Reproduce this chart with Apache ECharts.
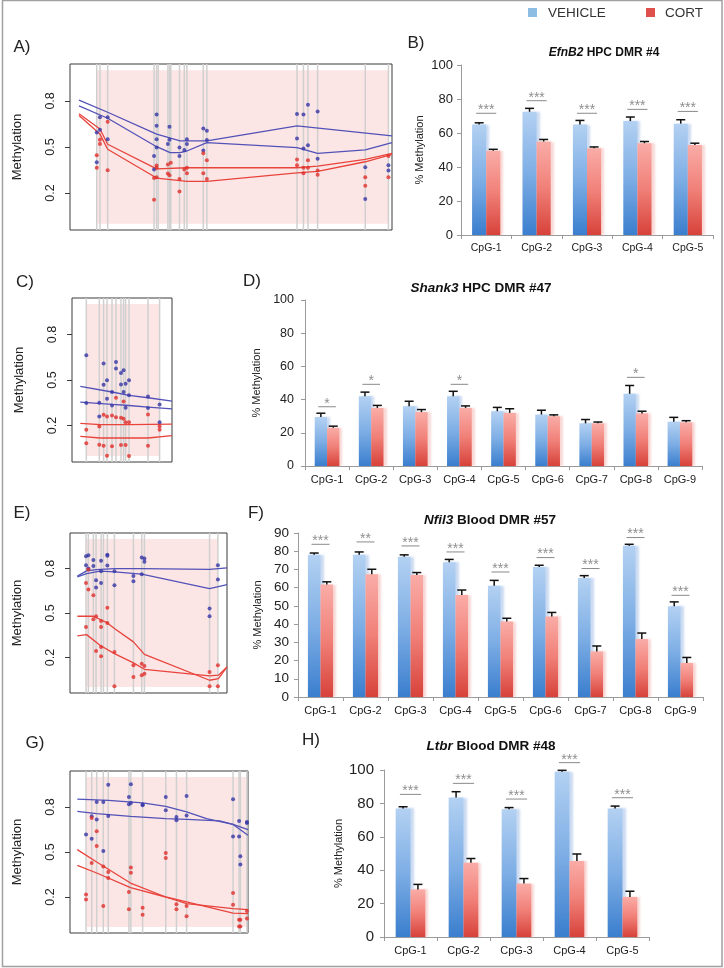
<!DOCTYPE html>
<html><head><meta charset="utf-8">
<script src="https://cdn.jsdelivr.net/npm/echarts@6/dist/echarts.min.js"></script>
<style>html,body{margin:0;padding:0;background:#fff}#c{width:724px;height:968px}</style>
</head><body><div id="c"></div><script>
const FONT = 'Liberation Sans, Arial, Helvetica, sans-serif';

// ---------- Panel A (EfnB2 region) ----------
const aCpG = [8.3, 9.3, 11.7, 26.1, 26.9, 27.4, 30.4, 30.9, 31.3, 34.0, 35.5, 36.3, 41.4, 42.5, 70.5, 72.5, 73.9, 76.9, 91.7, 98.9];
const aBluePts = [[8.3,0.594],[8.3,0.401],[9.3,0.694],[9.3,0.612],[11.7,0.694],[11.7,0.551],[26.1,0.441],[26.1,0.353],[26.9,0.711],[26.9,0.639],[26.9,0.551],[26.9,0.496],[30.9,0.632],[30.9,0.547],[30.4,0.519],[34.0,0.496],[34.0,0.441],[35.5,0.481],[36.3,0.551],[36.3,0.519],[41.4,0.621],[41.4,0.477],[42.5,0.606],[42.5,0.545],[70.5,0.715],[70.5,0.556],[72.5,0.711],[72.5,0.490],[73.9,0.775],[73.9,0.511],[76.9,0.731],[76.9,0.424],[91.7,0.369],[91.7,0.162],[98.9,0.382],[98.9,0.347]];
const aRedPts = [[8.3,0.446],[8.3,0.365],[9.3,0.547],[9.3,0.52],[11.7,0.665],[11.7,0.349],[26.1,0.298],[26.1,0.156],[26.9,0.38],[26.9,0.365],[26.9,0.303],[30.4,0.386],[30.4,0.327],[30.9,0.316],[31.3,0.397],[34.0,0.292],[34.0,0.21],[35.5,0.353],[36.3,0.365],[36.3,0.33],[41.4,0.459],[41.4,0.33],[42.5,0.413],[42.5,0.292],[70.5,0.419],[70.5,0.382],[72.5,0.365],[72.5,0.33],[73.9,0.413],[73.9,0.365],[76.9,0.347],[76.9,0.32],[91.7,0.303],[91.7,0.248],[98.9,0.441],[98.9,0.303]];
const aBlueHi = [[2.8,0.805],[11.7,0.726],[26.9,0.584],[34.2,0.54],[42.5,0.54],[70.5,0.638],[100,0.573]];
const aBlueLo = [[2.8,0.767],[11.7,0.687],[26.9,0.502],[31.1,0.463],[34.2,0.463],[36.3,0.474],[42.5,0.529],[70.5,0.496],[76.9,0.459],[91.7,0.481],[100,0.529]];
const aRedHi = [[2.8,0.716],[9.3,0.617],[11.7,0.518],[26.9,0.358],[36.3,0.365],[70.5,0.365],[76.9,0.376],[91.7,0.419],[100,0.459]];
const aRedLo = [[2.8,0.705],[9.3,0.584],[11.7,0.485],[26.9,0.298],[36.3,0.276],[42.5,0.276],[70.5,0.331],[76.9,0.342],[91.7,0.404],[100,0.452]];

// ---------- Panel C (Shank3 region) ----------
const cCpG = [14.3, 27.3, 31.6, 35.0, 40.0, 44.0, 49.0, 51.6, 53.6, 57.0, 76.0, 87.6];
const cBluePts = [[14.3,0.663],[14.3,0.348],[27.3,0.35],[27.3,0.26],[31.6,0.608],[31.6,0.469],[35,0.498],[35,0.377],[40,0.421],[40,0.332],[44,0.619],[44,0.575],[49,0.546],[49,0.471],[51.6,0.564],[51.6,0.421],[53.6,0.475],[53.6,0.317],[57,0.498],[57,0.399],[76,0.392],[76,0.315],[87.6,0.339],[87.6,0.222]];
const cRedPts = [[14.3,0.173],[14.3,0.083],[27.3,0.193],[27.3,0.074],[31.6,0.271],[31.6,0.067],[35,0.26],[35,0.001],[40,0.266],[40,0.063],[44,0.383],[44,0.255],[49,0.251],[49,0.072],[51.6,0.359],[51.6,0.244],[53.6,0.222],[53.6,0.072],[57,0.222],[57,0.0],[76,0.273],[76,0.067],[87.6,0.196],[87.6,0.173]];
const cBlueHi = [[8.3,0.458],[40,0.421],[57,0.399],[76,0.383],[100,0.361]];
const cBlueLo = [[8.3,0.354],[40,0.339],[57,0.332],[76,0.322],[100,0.31]];
const cRedHi = [[8.3,0.215],[28.3,0.206],[57,0.206],[100,0.21]];
const cRedLo = [[8.3,0.129],[28.3,0.118],[57,0.118],[76,0.118],[100,0.134]];

// ---------- Panel E (Nfil3 region) ----------
const eCpG = [10.2, 11.7, 14.9, 16.6, 19.8, 21.3, 23.8, 28.3, 40.4, 45.7, 47.4, 88.9, 94.2];
const eBluePts = [[10.2,0.883],[11.7,0.89],[10.2,0.823],[11.7,0.8],[14.9,0.857],[14.9,0.817],[16.6,0.721],[16.6,0.672],[19.8,0.852],[19.8,0.782],[19.8,0.703],[23.8,0.894],[23.8,0.886],[23.8,0.82],[28.3,0.782],[28.3,0.688],[40.4,0.749],[40.4,0.715],[45.7,0.875],[47.4,0.868],[47.4,0.846],[45.7,0.762],[88.9,0.53],[88.9,0.478],[94.2,0.823],[94.2,0.726]];
const eRedPts = [[11.7,0.793],[10.2,0.703],[11.7,0.658],[10.2,0.406],[14.9,0.62],[14.9,0.458],[16.6,0.478],[16.6,0.244],[19.8,0.446],[19.8,0.406],[19.8,0.271],[19.8,0.208],[23.8,0.536],[23.8,0.433],[28.3,0.237],[28.3,0.005],[40.4,0.147],[40.4,0.068],[45.7,0.158],[45.7,0.08],[47.4,0.142],[47.4,0.09],[88.9,0.102],[88.9,0.005],[94.2,0.147],[94.2,0.005]];
const eBlueHi = [[4.7,0.749],[10.6,0.784],[16.8,0.793],[28.3,0.8],[45.7,0.8],[88.9,0.795],[100,0.804]];
const eBlueLo = [[4.7,0.744],[10.6,0.766],[19.1,0.782],[28.3,0.778],[45.7,0.762],[88.9,0.665],[100,0.692]];
const eRedHi = [[4.7,0.478],[14.9,0.478],[23.8,0.433],[28.3,0.395],[40.4,0.305],[47.4,0.221],[88.9,0.046],[94.6,0.057],[100,0.136]];
const eRedLo = [[4.7,0.345],[10.6,0.354],[19.1,0.282],[28.3,0.226],[40.4,0.163],[47.4,0.12],[88.9,0.075],[94.6,0.08],[100,0.136]];

// ---------- Panel G (Ltbr region) ----------
const gCpG = [9.0, 12.2, 15.0, 18.7, 21.5, 33.1, 34.2, 40.8, 53.8, 59.8, 65.5, 91.6, 95.0, 95.7, 99.4];
const gBluePts = [[9,0.616],[12.2,0.589],[12.2,0.738],[15,0.833],[15,0.716],[18.7,0.833],[18.7,0.507],[21.5,0.949],[21.5,0.74],[33.1,0.867],[33.1,0.818],[34.2,0.951],[34.2,0.827],[40.8,0.816],[40.8,0.811],[53.8,0.867],[53.8,0.778],[59.8,0.733],[59.8,0.711],[65.5,0.873],[65.5,0.744],[91.6,0.851],[91.6,0.604],[95,0.604],[95,0.707],[95.7,0.471],[95.7,0.416],[99.4,0.7],[99.4,0.693]];
const gRedPts = [[9,0.216],[9,0.184],[12.2,0.727],[12.2,0.427],[15,0.638],[15,0.54],[18.7,0.404],[18.7,0.14],[21.5,0.367],[21.5,0.327],[33.1,0.233],[33.1,0.118],[34.2,0.396],[34.2,0.362],[40.8,0.129],[40.8,0.082],[53.8,0.493],[53.8,0.46],[59.8,0.151],[59.8,0.118],[65.5,0.14],[65.5,0.071],[91.6,0.227],[91.6,0.149],[95,0.049],[95,0.004],[95.7,0.049],[95.7,0.004],[99.4,0.107],[99.4,0.056]];
const gBlueHi = [[4.1,0.853],[21.5,0.844],[40.8,0.827],[53.8,0.804],[65.5,0.767],[76.7,0.722],[91.6,0.684],[100,0.649]];
const gBlueLo = [[4.1,0.771],[15,0.756],[34,0.738],[53.8,0.722],[65.5,0.718],[84.1,0.707],[91.6,0.684],[100,0.611]];
const gRedHi = [[4.1,0.516],[15,0.433],[34,0.293],[53.8,0.2],[65.5,0.156],[91.6,0.122],[100,0.116]];
const gRedLo = [[4.1,0.411],[15,0.36],[34,0.262],[53.8,0.2],[65.5,0.167],[91.6,0.093],[100,0.089]];

const methTicks = [0.2, 0.5, 0.8];

// ---------- Bar panels ----------
const bCats = ['CpG-1','CpG-2','CpG-3','CpG-4','CpG-5'];
const bVeh = [65, 72.5, 65, 67, 65.5];
const bVehErr = [1, 2, 2.4, 2.4, 2.3];
const bCort = [49.6, 55, 51, 54, 53];
const bCortErr = [0.8, 1.2, 0.8, 1, 1];
const bSigY = [71.6, 79, 71.6, 73.9, 72.7];
const bSigLbl = ['***','***','***','***','***'];

const dCats = ['CpG-1','CpG-2','CpG-3','CpG-4','CpG-5','CpG-6','CpG-7','CpG-8','CpG-9'];
const dVeh = [29.5, 42, 36, 42, 33, 31, 25.7, 43.5, 26.7];
const dVehErr = [2.3, 2.5, 3, 3, 2.3, 2.6, 2.3, 5, 2.6];
const dCort = [23, 35, 32.5, 35, 32, 30, 25.7, 31.7, 26.3];
const dCortErr = [1, 1.5, 1.5, 1.2, 2.5, 0.8, 0.8, 1.3, 1];
const dSigY = [35.7, 49.2, 0, 49.2, 0, 0, 0, 53.4, 0];
const dSigLbl = ['*','*','','*','','','','*',''];

const fCats = ['CpG-1','CpG-2','CpG-3','CpG-4','CpG-5','CpG-6','CpG-7','CpG-8','CpG-9'];
const fVeh = [78, 78, 77, 74, 61, 71.3, 65.3, 83, 49.8];
const fVehErr = [1, 1.6, 1, 1.5, 3, 1, 1.3, 0.8, 2.4];
const fCort = [61.7, 67.3, 67, 56, 41.4, 44.2, 25, 31.8, 18.7];
const fCortErr = [1.5, 2.8, 1.3, 2.7, 1.8, 2.2, 3, 3.3, 3];
const fSigY = [83.8, 85.1, 82.9, 79.6, 68.6, 76.5, 70.5, 87.5, 55.8];
const fSigLbl = ['***','**','***','***','***','***','***','***','***'];

const hCats = ['CpG-1','CpG-2','CpG-3','CpG-4','CpG-5'];
const hVeh = [77, 83.5, 76.5, 99, 77];
const hVehErr = [1, 3.5, 1, 0.8, 1.4];
const hCort = [28.5, 44.5, 32, 45.5, 24];
const hCortErr = [3, 2.5, 3, 4.2, 3.4];
const hSigY = [85.4, 92, 82.6, 104.4, 83.4];
const hSigLbl = ['***','***','***','***','***'];

// ---------- Build option ----------
const scatterPanels = [
  {cpg:aCpG, blue:aBluePts, red:aRedPts, bl:[aBlueHi,aBlueLo], rl:[aRedHi,aRedLo], g:{left:70, top:64, width:322, height:166}},
  {cpg:cCpG, blue:cBluePts, red:cRedPts, bl:[cBlueHi,cBlueLo], rl:[cRedHi,cRedLo], g:{left:72, top:298, width:100, height:164}},
  {cpg:eCpG, blue:eBluePts, red:eRedPts, bl:[eBlueHi,eBlueLo], rl:[eRedHi,eRedLo], g:{left:70, top:533, width:157, height:160}},
  {cpg:gCpG, blue:gBluePts, red:gRedPts, bl:[gBlueHi,gBlueLo], rl:[gRedHi,gRedLo], g:{left:70, top:771, width:178, height:162}}
];
const barPanels = [
  {cats:bCats, veh:bVeh, vehErr:bVehErr, cort:bCort, cortErr:bCortErr, sigY:bSigY, sigLbl:bSigLbl, max:100, interval:20, g:{left:461, top:65, width:252, height:170}, yFont:13, yMargin:8, xFont:10.5, nameGap:36},
  {cats:dCats, veh:dVeh, vehErr:dVehErr, cort:dCort, cortErr:dCortErr, sigY:dSigY, sigLbl:dSigLbl, max:100, interval:20, g:{left:305, top:300, width:397, height:166}, yFont:12.5, yMargin:11, xFont:11, nameGap:38},
  {cats:fCats, veh:fVeh, vehErr:fVehErr, cort:fCort, cortErr:fCortErr, sigY:fSigY, sigLbl:fSigLbl, max:90, interval:10, g:{left:298, top:533, width:405, height:164}, yFont:13.5, yMargin:9, xFont:11, nameGap:30},
  {cats:hCats, veh:hVeh, vehErr:hVehErr, cort:hCort, cortErr:hCortErr, sigY:hSigY, sigLbl:hSigLbl, max:100, interval:20, g:{left:384, top:770, width:265, height:167}, yFont:15, yMargin:10, xFont:11, nameGap:40}
];

const grids = [], xAxes = [], yAxes = [], series = [];
const YMIN = -0.04, YMAX = 1.04;

scatterPanels.forEach((p, i) => {
  grids.push(Object.assign({show:true, borderColor:'#3a3a3a', borderWidth:1, backgroundColor:'transparent', containLabel:false, outerBoundsMode:'none'}, p.g));
  xAxes.push({type:'value', gridIndex:i, min:0, max:100, show:true,
    axisLine:{show:false}, axisTick:{show:false}, axisLabel:{show:false}, splitLine:{show:false}});
  yAxes.push({type:'value', gridIndex:i, min:YMIN, max:YMAX,
    axisLine:{show:false}, splitLine:{show:false},
    axisTick:{show:true, customValues:methTicks, length:5, lineStyle:{color:'#3a3a3a', width:1}},
    axisLabel:{show:true, customValues:methTicks, rotate:90, margin:13, fontSize:12.5, color:'#222', fontFamily:FONT,
      formatter: v => Number(v).toFixed(1)},
    name:'Methylation', nameLocation:'middle', nameGap:46,
    nameTextStyle:{fontSize:13, color:'#222', fontFamily:FONT}});
  // pink region (first to last CpG, 0..1)
  series.push({type:'custom', xAxisIndex:i, yAxisIndex:i, silent:true, z:1, clip:false,
    data:[[Math.min(...p.cpg), Math.max(...p.cpg)]],
    renderItem:(params, api) => {
      const p0 = api.coord([api.value(0), 1]);
      const p1 = api.coord([api.value(1), 0]);
      return {type:'rect', shape:{x:p0[0], y:p0[1], width:p1[0]-p0[0], height:p1[1]-p0[1]},
        style:{fill:'rgb(252,229,229)'}};
    }});
  // vertical CpG lines
  series.push({type:'custom', xAxisIndex:i, yAxisIndex:i, silent:true, z:2, clip:false,
    data:p.cpg.map(x => [x, 0]),
    renderItem:(params, api) => {
      const t = api.coord([api.value(0), YMAX]);
      const b = api.coord([api.value(0), YMIN]);
      return {type:'line', shape:{x1:t[0], y1:t[1], x2:b[0], y2:b[1]},
        style:{stroke:'#d0d0d0', lineWidth:1.5}};
    }});
  p.bl.forEach(l => series.push({type:'line', xAxisIndex:i, yAxisIndex:i, data:l, symbol:'none', silent:true, z:4,
    lineStyle:{color:'#5252b8', width:1.3}}));
  p.rl.forEach(l => series.push({type:'line', xAxisIndex:i, yAxisIndex:i, data:l, symbol:'none', silent:true, z:4,
    lineStyle:{color:'#e8443c', width:1.3}}));
  series.push({type:'scatter', xAxisIndex:i, yAxisIndex:i, data:p.blue, symbolSize:4, silent:true, z:5,
    itemStyle:{color:'#3636a6'}});
  series.push({type:'scatter', xAxisIndex:i, yAxisIndex:i, data:p.red, symbolSize:4, silent:true, z:5,
    itemStyle:{color:'#e0302c'}});
});

const vehGrad = new echarts.graphic.LinearGradient(0,0,0,1,[{offset:0,color:'#b3d1f2'},{offset:0.5,color:'#7eaee5'},{offset:1,color:'#3a7ece'}]);
const cortGrad = new echarts.graphic.LinearGradient(0,0,0,1,[{offset:0,color:'#faaca7'},{offset:0.5,color:'#f08078'},{offset:1,color:'#d7423a'}]);

barPanels.forEach((p, k) => {
  const i = k + 4;
  grids.push(Object.assign({show:false, containLabel:false, outerBoundsMode:'none'}, p.g));
  xAxes.push({type:'category', gridIndex:i, data:p.cats,
    axisLine:{show:true, lineStyle:{color:'#9a9a9a', width:1}},
    axisTick:{show:true, length:4, lineStyle:{color:'#9a9a9a'}},
    axisLabel:{show:true, interval:0, fontSize:p.xFont, color:'#222', margin:8, fontFamily:FONT},
    splitLine:{show:false}});
  yAxes.push({type:'value', gridIndex:i, min:0, max:p.max, interval:p.interval,
    axisLine:{show:true, lineStyle:{color:'#9a9a9a', width:1}},
    axisTick:{show:true, length:4, lineStyle:{color:'#9a9a9a'}},
    axisLabel:{show:true, fontSize:p.yFont, color:'#222', margin:p.yMargin, fontFamily:FONT},
    splitLine:{show:false},
    name:'% Methylation', nameLocation:'middle', nameGap:p.nameGap,
    nameTextStyle:{fontSize:11, color:'#222', fontFamily:FONT}});
  series.push({type:'bar', name:'VEHICLE', xAxisIndex:i, yAxisIndex:i, data:p.veh, barWidth:'28%', barGap:'0%',
    itemStyle:{color:vehGrad, shadowColor:'rgba(140,175,225,0.45)', shadowOffsetX:3, shadowBlur:2}, silent:true, z:2});
  series.push({type:'bar', name:'CORT', xAxisIndex:i, yAxisIndex:i, data:p.cort, barWidth:'28%', barGap:'0%',
    itemStyle:{color:cortGrad, shadowColor:'rgba(240,170,165,0.45)', shadowOffsetX:3, shadowBlur:2}, silent:true, z:2});
  const errData = p.veh.map((v, j) => [j, v, p.vehErr[j], -1]).concat(p.cort.map((v, j) => [j, v, p.cortErr[j], 1]));
  series.push({type:'custom', xAxisIndex:i, yAxisIndex:i, silent:true, z:5, clip:false, data:errData,
    renderItem:(params, api) => {
      const band = api.size([1, 0])[0];
      const base = api.coord([api.value(0), api.value(1)]);
      const top = api.coord([api.value(0), api.value(1) + api.value(2)]);
      const cx = base[0] + api.value(3) * 0.14 * band;
      const st = {stroke:'#111', lineWidth:1.5};
      return {type:'group', children:[
        {type:'line', shape:{x1:cx, y1:base[1], x2:cx, y2:top[1]}, style:st},
        {type:'line', shape:{x1:cx-4.5, y1:top[1], x2:cx+4.5, y2:top[1]}, style:st}
      ]};
    }});
  series.push({type:'custom', xAxisIndex:i, yAxisIndex:i, silent:true, z:6, clip:false,
    data:p.sigY.map((y, j) => [j, y]),
    renderItem:(params, api) => {
      const lbl = p.sigLbl[params.dataIndex];
      if (!lbl) return null;
      const band = api.size([1, 0])[0];
      const c = api.coord([api.value(0), api.value(1)]);
      return {type:'group', children:[
        {type:'line', shape:{x1:c[0]-0.2*band, y1:c[1], x2:c[0]+0.2*band, y2:c[1]}, style:{stroke:'#8a8a8a', lineWidth:1}},
        {type:'text', style:{text:lbl, x:c[0], y:c[1]-3, align:'center', verticalAlign:'middle',
          font:'14px ' + FONT, fill:'#8f8f8f'}}
      ]};
    }});
});

function titleText(gene, rest, x, y, size) {
  const rich = {
    i:{fontStyle:'italic', fontWeight:'bold', fontFamily:FONT, fill:'#111', fontSize:size},
    b:{fontWeight:'bold', fontFamily:FONT, fill:'#111', fontSize:size}
  };
  return {type:'text', x:x, y:y, silent:true, style:{text:'{i|' + gene + '}{b| ' + rest + '}', rich:rich, align:'center', verticalAlign:'middle'}};
}
function panelLabel(t, x, y) {
  return {type:'text', x:x, y:y, silent:true, style:{text:t, font:'17px ' + FONT, fill:'#222', align:'center', verticalAlign:'middle'}};
}

const graphics = [
  {type:'rect', silent:true, shape:{x:2.5, y:0.5, width:719.5, height:966}, style:{fill:'none', stroke:'#a0a0a0', lineWidth:1.5}, z:-1},
  {type:'rect', silent:true, shape:{x:528, y:8, width:9, height:9}, style:{fill:'#8ebde3'}},
  {type:'text', silent:true, x:548, y:13, style:{text:'VEHICLE', font:'13.5px ' + FONT, fill:'#333', align:'left', verticalAlign:'middle'}},
  {type:'rect', silent:true, shape:{x:646, y:8, width:9, height:9}, style:{fill:'#df4f4c'}},
  {type:'text', silent:true, x:665, y:13, style:{text:'CORT', font:'13.5px ' + FONT, fill:'#333', align:'left', verticalAlign:'middle'}},
  panelLabel('A)', 22, 47), panelLabel('B)', 416, 43),
  panelLabel('C)', 25, 282), panelLabel('D)', 252, 281),
  panelLabel('E)', 22, 513), panelLabel('F)', 256, 513),
  panelLabel('G)', 35, 743), panelLabel('H)', 311, 740),
  titleText('EfnB2', 'HPC DMR #4', 604, 53, 12),
  titleText('Shank3', 'HPC DMR #47', 481, 288, 13.5),
  titleText('Nfil3', 'Blood DMR #57', 490, 520, 13.5),
  titleText('Ltbr', 'Blood DMR #48', 491, 746, 13.5)
];

const chart = echarts.init(document.getElementById('c'), null, {renderer:'canvas'});
chart.setOption({
  animation:false,
  backgroundColor:'#ffffff',
  textStyle:{fontFamily:FONT},
  grid:grids, xAxis:xAxes, yAxis:yAxes, series:series, graphic:graphics
});
</script></body></html>
